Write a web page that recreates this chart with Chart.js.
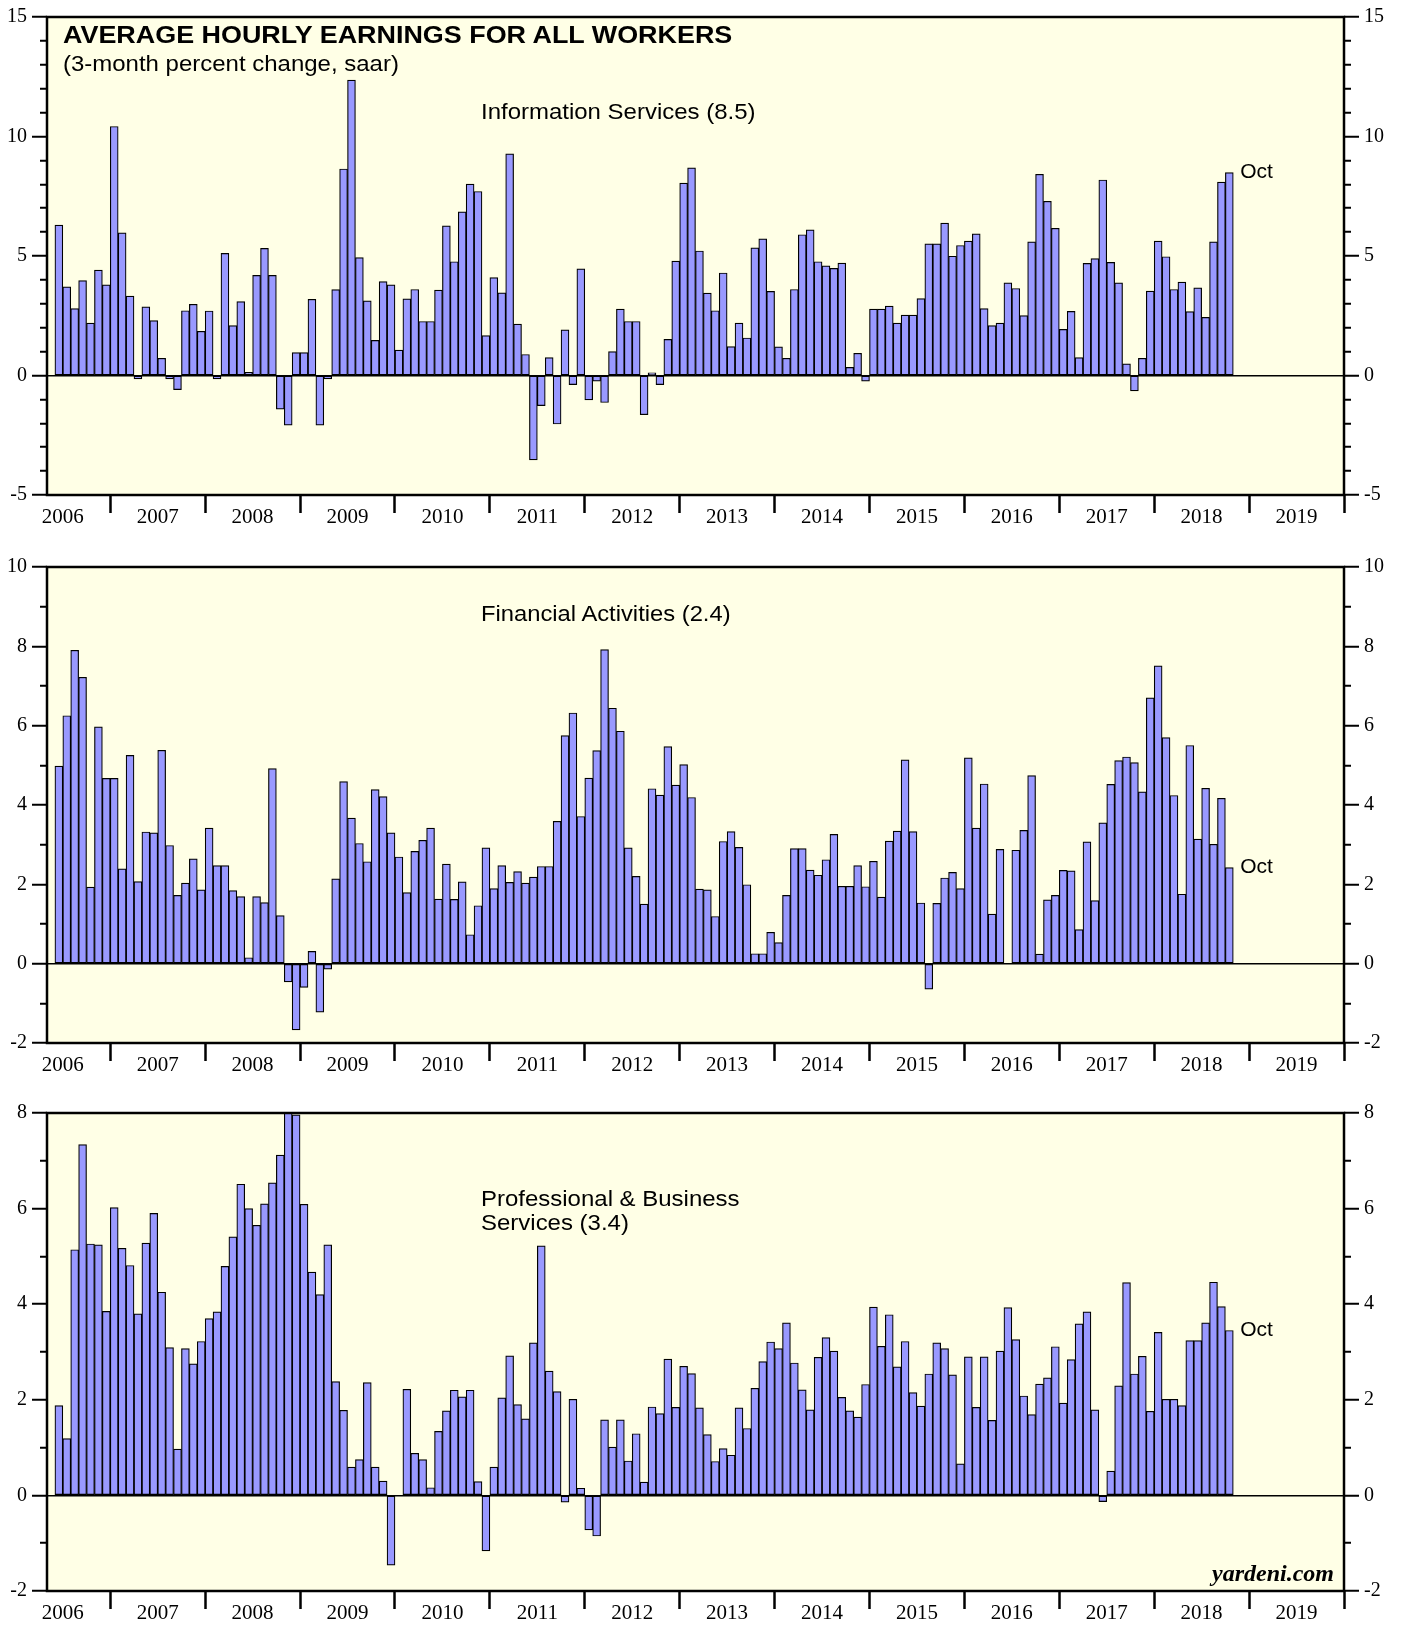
<!DOCTYPE html>
<html>
<head>
<meta charset="utf-8">
<script src="https://cdn.jsdelivr.net/npm/chart.js@4.4.0/dist/chart.umd.min.js"></script>
<style>
  body { margin: 0; background: #fff; width: 1403px; height: 1625px; position: relative; overflow: hidden; }
  canvas { position: absolute; left: 0; }
  .lbl { position: absolute; font-family: "Liberation Sans", Arial, sans-serif; font-size: 22px; white-space: nowrap; color: #000; line-height: normal; transform-origin: 0 0; }
</style>
</head>
<body>
<canvas id="c1" width="1403" height="550" style="top:0"></canvas>
<canvas id="c2" width="1403" height="546" style="top:550px"></canvas>
<canvas id="c3" width="1403" height="529" style="top:1096px"></canvas>

<div class="lbl" style="left:63px; top:22px; font-size:23px; font-weight:bold; transform:scaleX(1.17)">AVERAGE HOURLY EARNINGS FOR ALL WORKERS</div>
<div class="lbl" style="left:63px; top:51px; transform:scaleX(1.09)">(3-month percent change, saar)</div>
<div class="lbl" style="left:481px; top:99px; transform:scaleX(1.09)">Information Services (8.5)</div>
<div class="lbl" style="left:481px; top:601px; transform:scaleX(1.08)">Financial Activities (2.4)</div>
<div class="lbl" style="left:481px; top:1186px; transform:scaleX(1.09)">Professional &amp; Business</div>
<div class="lbl" style="left:481px; top:1210px; transform:scaleX(1.09)">Services (3.4)</div>
<div class="lbl" style="right:69px; top:1560px; font-family:'Liberation Serif', serif; font-size:24px; font-weight:bold; font-style:italic;">yardeni.com</div>

<script>
// x axis runs May 2006 .. Dec 2019, data Jun 2006 .. Oct 2018
const monthNames = ['Jan','Feb','Mar','Apr','May','Jun','Jul','Aug','Sep','Oct','Nov','Dec'];
const years = [2006,2007,2008,2009,2010,2011,2012,2013,2014,2015,2016,2017,2018,2019];
const months = [];
years.forEach(function (y) {
  monthNames.forEach(function (m, i) {
    if (y === 2006 && i < 4) return;
    months.push(m + ' ' + y);
  });
});

// Information Services, Jun 2006 - Oct 2018
const infoServices = [
  6.29, 3.71, 2.80, 3.97, 2.19, 4.41, 3.79,
  10.42, 5.97, 3.32, -0.14, 2.87, 2.30, 0.72, -0.14, -0.59, 2.71, 2.98, 1.85,
  2.70, -0.14, 5.11, 2.09, 3.09, 0.13, 4.19, 5.32, 4.19, -1.41, -2.08, 0.96,
  0.96, 3.19, -2.08, -0.14, 3.59, 8.64, 12.36, 4.93, 3.12, 1.47, 3.93, 3.79,
  1.06, 3.21, 3.60, 2.26, 2.26, 3.57, 6.26, 4.76, 6.85, 8.01, 7.70, 1.67,
  4.10, 3.46, 9.27, 2.15, 0.88, -3.53, -1.26, 0.75, -2.03, 1.91, -0.38, 4.46,
  -1.02, -0.24, -1.13, 1.00, 2.78, 2.26, 2.26, -1.64, 0.11, -0.38, 1.51, 4.79,
  8.05, 8.69, 5.21, 3.45, 2.71, 4.29, 1.21, 2.19, 1.57, 5.34, 5.72, 3.52,
  1.20, 0.72, 3.60, 5.89, 6.09, 4.76, 4.59, 4.48, 4.70, 0.34, 0.93, -0.24,
  2.78, 2.78, 2.90, 2.19, 2.53, 2.53, 3.22, 5.51, 5.51, 6.38, 4.99, 5.44,
  5.62, 5.93, 2.80, 2.09, 2.19, 3.88, 3.64, 2.51, 5.59, 8.42, 7.29, 6.16,
  1.93, 2.68, 0.75, 4.69, 4.89, 8.18, 4.73, 3.88, 0.49, -0.64, 0.72, 3.53,
  5.62, 4.97, 3.60, 3.91, 2.67, 3.67, 2.43, 5.59, 8.09, 8.49
];

// Financial Activities
const financial = [
  4.98, 6.25, 7.90, 7.22, 1.93, 5.97, 4.67,
  4.67, 2.39, 5.25, 2.07, 3.32, 3.30, 5.38, 2.98, 1.72, 2.03, 2.64, 1.86,
  3.42, 2.47, 2.47, 1.84, 1.69, 0.15, 1.69, 1.54, 4.92, 1.21, -0.46, -1.67,
  -0.60, 0.31, -1.22, -0.14, 2.14, 4.59, 3.67, 3.03, 2.57, 4.39, 4.21, 3.30,
  2.69, 1.79, 2.83, 3.11, 3.42, 1.63, 2.51, 1.62, 2.06, 0.73, 1.46, 2.92,
  1.89, 2.47, 2.05, 2.32, 2.03, 2.18, 2.45, 2.45, 3.59, 5.75, 6.32, 3.71,
  4.68, 5.37, 7.92, 6.44, 5.86, 2.92, 2.20, 1.50, 4.41, 4.25, 5.47, 4.50,
  5.02, 4.19, 1.88, 1.86, 1.19, 3.08, 3.33, 2.93, 1.99, 0.25, 0.25, 0.79,
  0.53, 1.72, 2.90, 2.90, 2.36, 2.23, 2.62, 3.26, 1.95, 1.95, 2.47, 1.94,
  2.58, 1.68, 3.09, 3.34, 5.14, 3.33, 1.53, -0.64, 1.52, 2.16, 2.30, 1.89,
  5.19, 3.42, 4.53, 1.25, 2.88, 0, 2.86, 3.36, 4.74, 0.24, 1.61, 1.72,
  2.35, 2.34, 0.86, 3.07, 1.59, 3.55, 4.52, 5.12, 5.21, 5.07, 4.33, 6.70,
  7.51, 5.70, 4.24, 1.75, 5.50, 3.14, 4.42, 3.01, 4.17, 2.42
];

// Professional & Business Services
const professional = [
  1.88, 1.19, 5.14, 7.34, 5.26, 5.24, 3.85,
  6.02, 5.17, 4.81, 3.80, 5.28, 5.90, 4.25, 3.09, 0.97, 3.07, 2.75, 3.22,
  3.70, 3.84, 4.79, 5.41, 6.51, 6.00, 5.65, 6.10, 6.54, 7.12, 8.05, 7.96,
  6.09, 4.67, 4.20, 5.24, 2.38, 1.78, 0.59, 0.75, 2.36, 0.59, 0.30, -1.46,
  0, 2.22, 0.88, 0.75, 0.16, 1.34, 1.77, 2.20, 2.06, 2.20, 0.29, -1.16,
  0.59, 2.04, 2.92, 1.90, 1.60, 3.19, 5.22, 2.60, 2.17, -0.14, 2.01, 0.15,
  -0.72, -0.85, 1.58, 1.01, 1.58, 0.72, 1.29, 0.28, 1.85, 1.71, 2.85, 1.84,
  2.70, 2.55, 1.83, 1.27, 0.71, 0.98, 0.84, 1.83, 1.40, 2.24, 2.80, 3.21,
  3.07, 3.61, 2.77, 2.21, 1.79, 2.89, 3.30, 3.02, 2.05, 1.77, 1.64, 2.32,
  3.94, 3.12, 3.78, 2.69, 3.22, 2.15, 1.87, 2.54, 3.19, 3.07, 2.52, 0.66,
  2.90, 1.84, 2.90, 1.57, 3.02, 3.93, 3.26, 2.08, 1.69, 2.33, 2.46, 3.11,
  1.93, 2.84, 3.59, 3.84, 1.79, -0.13, 0.51, 2.29, 4.45, 2.54, 2.91, 1.76,
  3.41, 2.01, 2.01, 1.88, 3.24, 3.24, 3.61, 4.46, 3.95, 3.45
];

const barFill = '#9999ff';
const plotBg = '#ffffe6';
const clear = 'rgba(0,0,0,0)';
const serif = { family: '"Liberation Serif", "Times New Roman", serif', size: 20 };

// yellow plot area and black frame
const framePlugin = {
  id: 'frame',
  beforeDraw(chart) {
    const { ctx, chartArea: a } = chart;
    ctx.save();
    ctx.fillStyle = plotBg;
    ctx.fillRect(a.left, a.top, a.right - a.left, a.bottom - a.top);
    ctx.restore();
  },
  afterDraw(chart) {
    const { ctx, chartArea: a } = chart;
    ctx.save();
    ctx.strokeStyle = '#000';
    ctx.lineWidth = 2.5;
    ctx.strokeRect(a.left, a.top, a.right - a.left, a.bottom - a.top);
    ctx.restore();
  }
};

// "Oct" next to the last bar
function lastLabel(index) {
  return {
    id: 'lastLabel',
    afterDatasetsDraw(chart) {
      const bar = chart.getDatasetMeta(0).data[index];
      const ctx = chart.ctx;
      ctx.save();
      ctx.font = '21px "Liberation Sans", Arial, sans-serif';
      ctx.fillStyle = '#000';
      ctx.textBaseline = 'middle';
      ctx.fillText('Oct', bar.x + bar.width / 2 + 7, bar.y);
      ctx.restore();
    }
  };
}

function yAxis(side, min, max, step, width) {
  return {
    position: side,
    min: min,
    max: max,
    border: { display: false },
    ticks: {
      stepSize: 1,
      autoSkip: false,
      padding: 5,
      color: '#000',
      font: serif,
      callback: function (v) { return v % step === 0 ? String(v) : ''; }
    },
    grid: {
      drawOnChartArea: side === 'left',
      color: function (ctx) { return ctx.tick && ctx.tick.value === 0 ? '#000' : clear; },
      lineWidth: 1.5,
      tickLength: 15,
      tickWidth: 2,
      tickColor: '#000',
      tickBorderDash: function (ctx) {
        if (ctx.tick && ctx.tick.value % step === 0) return [];
        return side === 'left' ? [0, 8, 100] : [7, 100];
      }
    },
    afterFit: function (scale) { scale.width = width; }
  };
}

function makeChart(id, values, min, max, step, xHeight) {
  const padded = [null].concat(values, new Array(months.length - values.length - 1).fill(null));
  return new Chart(document.getElementById(id), {
    type: 'bar',
    data: {
      labels: months,
      datasets: [{
        data: padded,
        backgroundColor: barFill,
        borderColor: '#000',
        borderWidth: 1.2,
        borderSkipped: false,
        barPercentage: 1,
        categoryPercentage: 1,
        clip: 0
      }]
    },
    options: {
      responsive: false,
      animation: false,
      layout: { padding: { top: 15, left: 0, right: 0, bottom: 0 } },
      plugins: { legend: { display: false }, tooltip: { enabled: false } },
      scales: {
        x: {
          type: 'category',
          offset: true,
          border: { display: false },
          grid: {
            offset: true,
            drawOnChartArea: false,
            tickLength: 18,
            tickWidth: 2.5,
            tickColor: function (ctx) {
              if (ctx.index === undefined) return '#000';
              return months[ctx.index].startsWith('Jan') ? '#000' : clear;
            }
          },
          ticks: {
            autoSkip: false,
            maxRotation: 0,
            minRotation: 0,
            padding: -8,
            labelOffset: -4,
            color: '#000',
            font: { family: serif.family, size: 21 },
            callback: function (v, i) { return months[i].startsWith('Jul') ? months[i].slice(4) : ''; }
          },
          afterFit: function (scale) { scale.height = xHeight; }
        },
        y: yAxis('left', min, max, step, 47),
        y2: yAxis('right', min, max, step, 59)
      }
    },
    plugins: [framePlugin, lastLabel(values.length)]
  });
}

makeChart('c1', infoServices, -5, 15, 5, 55);
makeChart('c2', financial, -2, 10, 2, 53);
makeChart('c3', professional, -2, 8, 2, 34);
</script>
</body>
</html>
